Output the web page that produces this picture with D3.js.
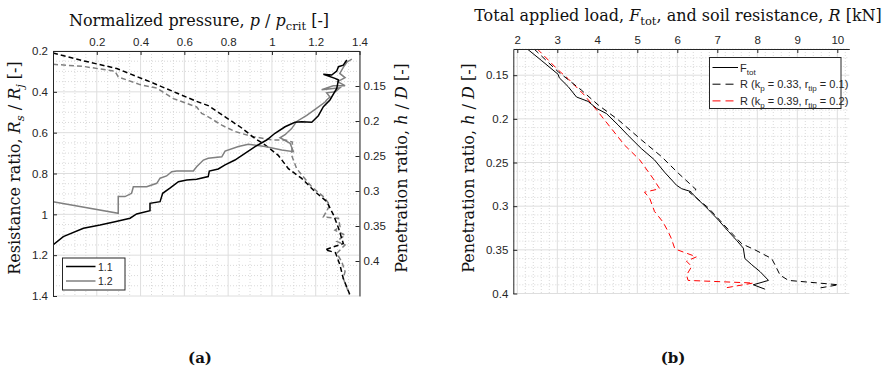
<!DOCTYPE html>
<html><head><meta charset="utf-8">
<script src="https://cdn.jsdelivr.net/npm/d3@7"></script>
<style>body{margin:0;background:#fff}svg{display:block}</style>
</head><body><svg id="c" width="892" height="368"></svg>
<script>
// ---------- chart (a) ----------
const pTicks = [0.2, 0.4, 0.6, 0.8, 1, 1.2, 1.4];
const rTicks = [0.2, 0.4, 0.6, 0.8, 1, 1.2, 1.4];
const hTicksA = [0.15, 0.2, 0.25, 0.3, 0.35, 0.4];
const legendA = ["1.1", "1.2"];
// solid lines: [p/pcrit, Rs/Rj]
const solid11 = [[0,1.15],[0.047,1.109],[0.139,1.068],[0.215,1.052],[0.283,1.036],[0.352,1.019],[0.382,0.998],[0.443,0.982],[0.443,0.946],[0.489,0.938],[0.501,0.897],[0.534,0.872],[0.573,0.84],[0.611,0.832],[0.656,0.828],[0.709,0.815],[0.714,0.788],[0.755,0.778],[0.786,0.758],[0.831,0.734],[0.877,0.701],[0.923,0.668],[0.976,0.636],[1.014,0.603],[1.06,0.571],[1.105,0.549],[1.136,0.546],[1.182,0.549],[1.212,0.517],[1.235,0.473],[1.265,0.44],[1.296,0.383],[1.304,0.342],[1.288,0.334],[1.235,0.314],[1.273,0.318],[1.296,0.298],[1.304,0.277],[1.326,0.269],[1.342,0.244]];
const solid12 = [[0,0.938],[0.298,0.995],[0.298,0.913],[0.329,0.913],[0.359,0.897],[0.367,0.865],[0.428,0.865],[0.474,0.848],[0.489,0.823],[0.519,0.812],[0.542,0.791],[0.565,0.788],[0.641,0.788],[0.656,0.767],[0.687,0.734],[0.709,0.725],[0.771,0.718],[0.786,0.69],[0.847,0.668],[0.892,0.657],[0.968,0.668],[1.045,0.685],[1.098,0.693],[1.083,0.652],[1.037,0.625],[1.06,0.61],[1.09,0.58],[1.113,0.545],[1.159,0.515],[1.205,0.48],[1.243,0.45],[1.25,0.44],[1.265,0.425],[1.25,0.405],[1.29,0.4],[1.311,0.38],[1.227,0.39],[1.28,0.37],[1.334,0.37],[1.3,0.35],[1.334,0.33],[1.31,0.31],[1.326,0.28],[1.342,0.255],[1.365,0.24]];
// dashed lines: [p/pcrit, h/D]
const dashed11 = [[0,0.103],[0.139,0.114],[0.291,0.125],[0.443,0.144],[0.565,0.16],[0.656,0.172],[0.709,0.178],[0.786,0.194],[0.862,0.21],[0.923,0.225],[0.968,0.234],[1.029,0.249],[1.075,0.268],[1.136,0.282],[1.197,0.301],[1.25,0.315],[1.281,0.334],[1.304,0.353],[1.326,0.375],[1.243,0.384],[1.29,0.388],[1.311,0.406],[1.326,0.425],[1.357,0.449]];
const dashed12 = [[0,0.119],[0.139,0.122],[0.283,0.129],[0.298,0.137],[0.397,0.148],[0.474,0.153],[0.55,0.168],[0.656,0.18],[0.679,0.189],[0.709,0.194],[0.771,0.206],[0.831,0.215],[0.908,0.222],[0.999,0.227],[1.06,0.227],[1.093,0.23],[1.09,0.249],[1.113,0.268],[1.136,0.277],[1.182,0.294],[1.235,0.308],[1.265,0.32],[1.235,0.337],[1.304,0.339],[1.311,0.351],[1.288,0.356],[1.334,0.363],[1.296,0.372],[1.334,0.377],[1.296,0.389],[1.319,0.401],[1.334,0.415],[1.326,0.425],[1.349,0.444]];

// ---------- chart (b) ----------
const fTicks = [2, 3, 4, 5, 6, 7, 8, 9, 10];
const hTicksB = [0.15, 0.2, 0.25, 0.3, 0.35, 0.4];
// [load kN, h/D]
const fTot = [[2.25,0.12],[2.6,0.133],[3.02,0.149],[3.05,0.153],[3.27,0.163],[3.48,0.175],[3.77,0.18],[3.98,0.188],[4.23,0.194],[4.52,0.207],[4.77,0.219],[5.1,0.234],[5.43,0.247],[5.68,0.261],[5.98,0.276],[6.11,0.28],[6.32,0.283],[6.49,0.291],[6.78,0.304],[7.03,0.316],[7.28,0.329],[7.48,0.339],[7.65,0.348],[7.69,0.36],[7.86,0.367],[8.07,0.375],[8.28,0.385],[7.9,0.39],[8.19,0.395]];
const rKp033 = [[2.42,0.12],[3.02,0.146],[3.6,0.167],[4.02,0.184],[4.52,0.201],[5.1,0.224],[5.6,0.243],[6.02,0.262],[6.47,0.281],[6.3,0.284],[6.78,0.302],[7.28,0.327],[7.61,0.343],[7.94,0.35],[8.36,0.36],[8.44,0.367],[8.57,0.379],[8.78,0.385],[10.03,0.39],[9.52,0.394]];
const rKp039 = [[2.5,0.12],[3.02,0.144],[3.27,0.154],[3.68,0.173],[4.02,0.192],[4.35,0.211],[4.68,0.23],[5.06,0.247],[5.39,0.268],[5.56,0.28],[5.18,0.284],[5.31,0.291],[5.43,0.306],[5.64,0.318],[5.77,0.329],[5.85,0.337],[5.94,0.349],[6.48,0.358],[6.23,0.363],[6.36,0.369],[6.23,0.379],[6.27,0.385],[7.9,0.388],[7.15,0.394]];

const svg = d3.select("#c");
const AX = "#262626", GRID = "#dedede", MINOR = "#cfcfcf";
const SANS = "'Liberation Sans', Arial, sans-serif";
const SERIF = "'DejaVu Serif', 'Liberation Serif', serif";

function rich(g, parts, x, y, opts) {
  const t = g.append("text").attr("font-family", SERIF).attr("font-size", opts.fs).attr("fill", "#111")
    .attr("text-anchor", "middle");
  if (opts.rot) t.attr("transform", `translate(${x},${y}) rotate(-90)`);
  else t.attr("x", x).attr("y", y);
  let shift = 0;
  parts.forEach(p => {
    const ts = t.append("tspan").text(p.t);
    if (p.i) ts.attr("font-style", "italic");
    const want = p.sub ? opts.fs * 0.28 : 0;
    if (want !== shift) { ts.attr("dy", want - shift); shift = want; }
    if (p.sub) ts.attr("font-size", opts.fs * 0.72);
  });
  return t;
}

function styleAxis(g) {
  g.select(".domain").attr("stroke", AX).attr("stroke-width", 1);
  g.selectAll(".tick line").attr("stroke", AX).attr("stroke-width", 1);
  g.selectAll(".tick text").attr("fill", AX).attr("font-family", SANS).attr("font-size", 11.5);
}

function grid(g, x, y, xMajor, yMajor, xMinor, yMinor) {
  const [x0, x1] = x.range(), [y0, y1] = y.range();
  g.selectAll(".mx").data(xMinor).join("line").attr("x1", d => x(d)).attr("x2", d => x(d))
    .attr("y1", y0).attr("y2", y1).attr("stroke", MINOR).attr("stroke-width", 0.8).attr("stroke-dasharray", "1,2");
  g.selectAll(".my").data(yMinor).join("line").attr("class","my").attr("y1", d => y(d)).attr("y2", d => y(d))
    .attr("x1", x0).attr("x2", x1).attr("stroke", MINOR).attr("stroke-width", 0.8).attr("stroke-dasharray", "1,2");
  g.append("g").selectAll("line").data(xMajor).join("line").attr("x1", d => x(d)).attr("x2", d => x(d))
    .attr("y1", y0).attr("y2", y1).attr("stroke", GRID).attr("stroke-width", 1);
  g.append("g").selectAll("line").data(yMajor).join("line").attr("y1", d => y(d)).attr("y2", d => y(d))
    .attr("x1", x0).attr("x2", x1).attr("stroke", GRID).attr("stroke-width", 1);
}
const fmt = d => String(+d.toFixed(3));

// ================= (a) =================
{
  const L = 53, R = 359.5, T = 51, B = 296;
  const x = d3.scaleLinear().domain([0, 1.4]).range([L, R]);
  const yL = d3.scaleLinear().domain([0.2, 1.4]).range([T, B]);
  const yR = d3.scaleLinear().domain([0.1, 0.45]).range([T, B]);
  const g = svg.append("g");
  const xMinor = d3.range(0, 1.4001, 0.05).filter(v => Math.abs(v / 0.2 - Math.round(v / 0.2)) > 1e-6);
  const yMinor = d3.range(0.2, 1.4001, 0.05).filter(v => Math.abs(v / 0.2 - Math.round(v / 0.2)) > 1e-6);
  grid(g.append("g"), x, yL, pTicks, rTicks, xMinor, yMinor);

  svg.append("clipPath").attr("id", "ca").append("rect").attr("x", L).attr("y", T).attr("width", R - L).attr("height", B - T);
  const lp = g.append("g").attr("clip-path", "url(#ca)");
  const lineL = d3.line().x(d => x(d[0])).y(d => yL(d[1]));
  const lineR = d3.line().x(d => x(d[0])).y(d => yR(d[1]));
  lp.append("path").datum(dashed12).attr("d", lineR).attr("fill", "none").attr("stroke", "#808080").attr("stroke-width", 1.5).attr("stroke-dasharray", "5,3");
  lp.append("path").datum(dashed11).attr("d", lineR).attr("fill", "none").attr("stroke", "#000").attr("stroke-width", 1.5).attr("stroke-dasharray", "5,3");
  lp.append("path").datum(solid12).attr("d", lineL).attr("fill", "none").attr("stroke", "#808080").attr("stroke-width", 1.5);
  lp.append("path").datum(solid11).attr("d", lineL).attr("fill", "none").attr("stroke", "#000").attr("stroke-width", 1.5);

  const ax = g.append("g").attr("transform", `translate(0,${T})`)
    .call(d3.axisTop(x).tickValues(pTicks).tickFormat(fmt).tickSizeInner(-4).tickSizeOuter(0).tickPadding(5));
  styleAxis(ax);
  const ayl = g.append("g").attr("transform", `translate(${L},0)`)
    .call(d3.axisLeft(yL).tickValues(rTicks).tickFormat(fmt).tickSizeInner(-4).tickSizeOuter(0).tickPadding(5));
  styleAxis(ayl);
  const ayr = g.append("g").attr("transform", `translate(${R},0)`)
    .call(d3.axisRight(yR).tickValues(hTicksA).tickFormat(fmt).tickSizeInner(-4).tickSizeOuter(0).tickPadding(4));
  styleAxis(ayr);

  // legend
  const lg = g.append("g");
  lg.append("rect").attr("x", 62.5).attr("y", 258).attr("width", 62.5).attr("height", 32).attr("fill", "#fff").attr("stroke", AX).attr("stroke-width", 1);
  const cols = ["#000", "#808080"];
  legendA.forEach((name, i) => {
    const yy = 266.5 + i * 14.5;
    lg.append("line").attr("x1", 66).attr("x2", 95.5).attr("y1", yy).attr("y2", yy).attr("stroke", cols[i]).attr("stroke-width", 1.5);
    lg.append("text").attr("x", 98).attr("y", yy + 4).attr("font-family", SANS).attr("font-size", 10.5).attr("fill", AX).text(name);
  });

  rich(svg, [{t:"Normalized pressure, "},{t:"p",i:1},{t:" / "},{t:"p",i:1},{t:"crit",sub:1},{t:" [-]"}], 199, 26, {fs:16});
  rich(svg, [{t:"Resistance ratio, "},{t:"R",i:1},{t:"s",i:1,sub:1},{t:" / "},{t:"R",i:1},{t:"j",i:1,sub:1},{t:" [-]"}], 20, 168, {fs:16, rot:1});
  rich(svg, [{t:"Penetration ratio, "},{t:"h",i:1},{t:" / "},{t:"D",i:1},{t:" [-]"}], 407, 168, {fs:16, rot:1});
  svg.append("text").attr("x", 200).attr("y", 363).attr("text-anchor", "middle").attr("font-family", SERIF)
    .attr("font-weight", "bold").attr("font-size", 15).attr("fill", "#111").text("(a)");
}

// ================= (b) =================
{
  const L = 513.3, R = 849.3, T = 49, B = 293.5;
  const x = d3.scaleLinear().domain([1.9, 10.3]).range([L, R]);
  const y = d3.scaleLinear().domain([0.12, 0.4]).range([T, B]);
  const g = svg.append("g");
  const xMinor = d3.range(2, 10.3, 0.2).filter(v => Math.abs(v - Math.round(v)) > 1e-6);
  const yMinor = d3.range(0.12, 0.4001, 0.01).filter(v => Math.abs(v / 0.05 - Math.round(v / 0.05)) > 1e-6);
  grid(g.append("g"), x, y, fTicks, hTicksB, xMinor, yMinor);

  svg.append("clipPath").attr("id", "cb").append("rect").attr("x", L).attr("y", T).attr("width", R - L).attr("height", B - T);
  const lp = g.append("g").attr("clip-path", "url(#cb)");
  const line = d3.line().x(d => x(d[0])).y(d => y(d[1]));
  lp.append("path").datum(rKp039).attr("d", line).attr("fill", "none").attr("stroke", "#ff0000").attr("stroke-width", 1).attr("stroke-dasharray", "6,4");
  lp.append("path").datum(rKp033).attr("d", line).attr("fill", "none").attr("stroke", "#000").attr("stroke-width", 1).attr("stroke-dasharray", "6,4");
  lp.append("path").datum(fTot).attr("d", line).attr("fill", "none").attr("stroke", "#000").attr("stroke-width", 1);

  const ax = g.append("g").attr("transform", `translate(0,${T})`)
    .call(d3.axisTop(x).tickValues(fTicks).tickFormat(fmt).tickSizeInner(-4).tickSizeOuter(0).tickPadding(5));
  styleAxis(ax);
  const ay = g.append("g").attr("transform", `translate(${L},0)`)
    .call(d3.axisLeft(y).tickValues(hTicksB).tickFormat(fmt).tickSizeInner(-4).tickSizeOuter(0).tickPadding(5));
  styleAxis(ay);

  // legend
  const lg = g.append("g");
  lg.append("rect").attr("x", 709.5).attr("y", 57.5).attr("width", 131.5).attr("height", 51).attr("fill", "#fff").attr("stroke", AX).attr("stroke-width", 1);
  const items = [
    {c: "#000", dash: null, parts: [{t:"F"},{t:"tot",sub:1}]},
    {c: "#000", dash: "8,5", parts: [{t:"R (k"},{t:"p",sub:1},{t:" = 0.33, r"},{t:"tip",sub:1},{t:" = 0.1)"}]},
    {c: "#ff0000", dash: "8,5", parts: [{t:"R (k"},{t:"p",sub:1},{t:" = 0.39, r"},{t:"tip",sub:1},{t:" = 0.2)"}]}
  ];
  items.forEach((it, i) => {
    const yy = 67.5 + i * 16.7;
    const ln = lg.append("line").attr("x1", 712.5).attr("x2", 738).attr("y1", yy).attr("y2", yy).attr("stroke", it.c).attr("stroke-width", 1);
    if (it.dash) ln.attr("stroke-dasharray", it.dash);
    const t = lg.append("text").attr("x", 740).attr("y", yy + 4).attr("font-family", SANS).attr("font-size", 11).attr("fill", AX);
    let shift = 0;
    it.parts.forEach(p => {
      const ts = t.append("tspan").text(p.t);
      const want = p.sub ? 3 : 0;
      if (want !== shift) { ts.attr("dy", want - shift); shift = want; }
      if (p.sub) ts.attr("font-size", 8);
    });
  });

  rich(svg, [{t:"Total applied load, "},{t:"F",i:1},{t:"tot",sub:1},{t:", and soil resistance, "},{t:"R",i:1},{t:" [kN]"}], 678, 21, {fs:16});
  rich(svg, [{t:"Penetration ratio, "},{t:"h",i:1},{t:" / "},{t:"D",i:1},{t:" [-]"}], 474, 168, {fs:16, rot:1});
  svg.append("text").attr("x", 673).attr("y", 363).attr("text-anchor", "middle").attr("font-family", SERIF)
    .attr("font-weight", "bold").attr("font-size", 15).attr("fill", "#111").text("(b)");
}
</script></body></html>
